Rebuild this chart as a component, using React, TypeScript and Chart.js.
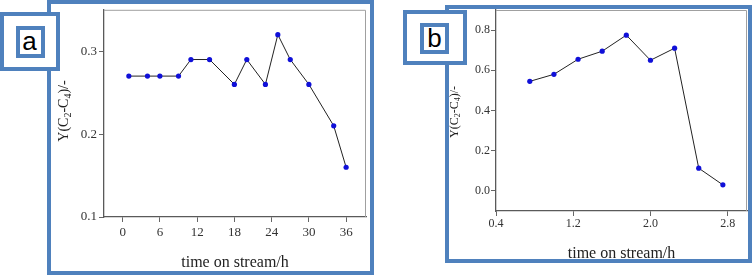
import React, { useEffect, useRef } from "react";
import { Chart, registerables } from "chart.js";
Chart.register(...registerables);

// Panel a
const timeA = [1, 4, 6, 9, 11, 14, 18, 20, 23, 25, 27, 30, 34, 36];
const yieldA = [0.27, 0.27, 0.27, 0.27, 0.29, 0.29, 0.26, 0.29, 0.26, 0.32, 0.29, 0.26, 0.21, 0.16];
const xTicksA = [0, 6, 12, 18, 24, 30, 36];
const yTicksA = [0.1, 0.2, 0.3];

// Panel b
const timeB = [0.75, 1.0, 1.25, 1.5, 1.75, 2.0, 2.25, 2.5, 2.75];
const yieldB = [0.545, 0.58, 0.655, 0.695, 0.775, 0.65, 0.71, 0.113, 0.03];
const xTicksB = [0.4, 1.2, 2.0, 2.8];
const yTicksB = [0.0, 0.2, 0.4, 0.6, 0.8];

const xTitle = "time on stream/h";
const yTitleParts: [string, boolean][] = [
  ["Y(C", false],
  ["2", true],
  ["-C", false],
  ["4", true],
  [")/-", false],
];
const panelLabels = ["a", "b"];

const SERIF = "'Liberation Serif', 'Times New Roman', serif";
const BLUE_FRAME = "#4f81bd";

type Cfg = {
  xs: number[];
  ys: number[];
  xTicks: number[];
  yTicks: number[];
  xMin: number;
  xMax: number;
  yMin: number;
  yMax: number;
  xDec: number;
  yDec: number;
  yWidth: number;
  xHeight: number;
  padTop: number;
  padRight: number;
  tickSize: number;
  tickLen: number;
  xTickPad: number;
  yTickPad: number;
  titleSize: number;
  titlePadBottom: number;
  yTitleX: number;
  yTitleY: number;
  yTitleSize: number;
};

function yTitlePlugin(c: Cfg) {
  return {
    id: "extras",
    afterDraw(chart: any) {
      const { ctx, chartArea: a } = chart;
      ctx.save();
      ctx.strokeStyle = "#a0a0a0";
      ctx.lineWidth = 1;
      ctx.beginPath();
      ctx.moveTo(a.left, a.top + 0.5);
      ctx.lineTo(a.right - 0.5, a.top + 0.5);
      ctx.lineTo(a.right - 0.5, a.bottom);
      ctx.stroke();
      ctx.restore();

      ctx.save();
      const f = c.yTitleSize;
      const fs = Math.round(f * 0.68);
      let total = 0;
      const widths: number[] = [];
      for (const [t, sub] of yTitleParts) {
        ctx.font = `${sub ? fs : f}px ${SERIF}`;
        const w = ctx.measureText(t).width;
        widths.push(w);
        total += w;
      }
      ctx.translate(c.yTitleX, c.yTitleY);
      ctx.rotate(-Math.PI / 2);
      ctx.fillStyle = "#222";
      ctx.textBaseline = "middle";
      ctx.textAlign = "left";
      let x = -total / 2;
      yTitleParts.forEach(([t, sub], i) => {
        ctx.font = `${sub ? fs : f}px ${SERIF}`;
        ctx.fillText(t, x, sub ? f * 0.28 : 0);
        x += widths[i];
      });
      ctx.restore();
    },
  };
}

function makeChart(canvas: HTMLCanvasElement, c: Cfg) {
  const data = c.xs.map((x, i) => ({ x, y: c.ys[i] }));
  return new Chart(canvas, {
    type: "scatter",
    data: {
      datasets: [
        {
          data,
          showLine: true,
          borderColor: "#222",
          borderWidth: 1,
          pointRadius: 2.6,
          pointBackgroundColor: "#1010d8",
          pointBorderColor: "#1010d8",
          pointBorderWidth: 0,
        },
      ],
    },
    options: {
      responsive: false,
      animation: false,
      layout: { padding: { top: c.padTop, right: c.padRight, left: 0, bottom: 0 } },
      plugins: { legend: { display: false }, tooltip: { enabled: false } },
      scales: {
        x: {
          type: "linear",
          min: c.xMin,
          max: c.xMax,
          afterBuildTicks: (s: any) => {
            s.ticks = c.xTicks.map((v) => ({ value: v }));
          },
          afterFit: (s: any) => {
            s.height = c.xHeight;
          },
          ticks: {
            callback: (v: any) => Number(v).toFixed(c.xDec),
            font: { family: SERIF, size: c.tickSize },
            color: "#333",
            padding: c.xTickPad,
            maxRotation: 0,
            autoSkip: false,
          },
          grid: {
            drawOnChartArea: false,
            drawTicks: true,
            tickLength: c.tickLen,
            color: "#666",
          },
          border: { color: "#5a5a5a", width: 1.3 },
          title: {
            display: true,
            text: xTitle,
            font: { family: SERIF, size: c.titleSize },
            color: "#222",
            padding: { top: 0, bottom: c.titlePadBottom },
          },
        },
        y: {
          type: "linear",
          min: c.yMin,
          max: c.yMax,
          afterBuildTicks: (s: any) => {
            s.ticks = c.yTicks.map((v) => ({ value: v }));
          },
          afterFit: (s: any) => {
            s.width = c.yWidth;
          },
          ticks: {
            callback: (v: any) => Number(v).toFixed(c.yDec),
            font: { family: SERIF, size: c.tickSize },
            color: "#333",
            padding: c.yTickPad,
            autoSkip: false,
          },
          grid: {
            drawOnChartArea: false,
            drawTicks: true,
            tickLength: c.tickLen,
            color: "#666",
          },
          border: { color: "#5a5a5a", width: 1.3 },
        },
      },
    },
    plugins: [yTitlePlugin(c)],
  });
}

const cfgA: Cfg = {
  xs: timeA,
  ys: yieldA,
  xTicks: xTicksA,
  yTicks: yTicksA,
  xMin: -3,
  xMax: 39.2,
  yMin: 0.1,
  yMax: 0.35,
  xDec: 0,
  yDec: 1,
  yWidth: 104,
  xHeight: 61,
  padTop: 9,
  padRight: 14,
  tickSize: 13,
  tickLen: 5,
  xTickPad: 3,
  yTickPad: 2,
  titleSize: 16,
  titlePadBottom: 6,
  yTitleX: 64,
  yTitleY: 111,
  yTitleSize: 14,
};

const cfgB: Cfg = {
  xs: timeB,
  ys: yieldB,
  xTicks: xTicksB,
  yTicks: yTicksB,
  xMin: 0.4,
  xMax: 3.0,
  yMin: -0.1,
  yMax: 0.9,
  xDec: 1,
  yDec: 1,
  yWidth: 116,
  xHeight: 67,
  padTop: 10,
  padRight: 5,
  tickSize: 12,
  tickLen: 5,
  xTickPad: 1,
  yTickPad: 1,
  titleSize: 16,
  titlePadBottom: 15,
  yTitleX: 75,
  yTitleY: 112,
  yTitleSize: 12,
};

function Panel({ cfg, left, width }: { cfg: Cfg; left: number; width: number }) {
  const ref = useRef<HTMLCanvasElement>(null);
  useEffect(() => {
    if (!ref.current) return;
    const ch = makeChart(ref.current, cfg);
    return () => ch.destroy();
  }, []);
  return (
    <canvas
      ref={ref}
      width={width}
      height={278}
      style={{ position: "absolute", left, top: 0, width, height: 278 }}
    />
  );
}

function Box({ l, t, w, h, bw, bg, children }: any) {
  return (
    <div
      style={{
        position: "absolute",
        left: l,
        top: t,
        width: w,
        height: h,
        boxSizing: "border-box",
        border: `${bw}px solid ${BLUE_FRAME}`,
        background: bg,
        display: "flex",
        alignItems: "center",
        justifyContent: "center",
        fontFamily: "'Liberation Sans', Arial, sans-serif",
        fontSize: 26,
        lineHeight: 1,
        color: "#000",
      }}
    >
      {children}
    </div>
  );
}

export default function App() {
  return (
    <div
      style={{
        position: "absolute",
        left: 0,
        top: 0,
        width: 752,
        height: 278,
        background: "#fff",
        overflow: "hidden",
      }}
    >
      <Panel cfg={cfgA} left={0} width={380} />
      <Panel cfg={cfgB} left={380} width={372} />
      <Box l={47} t={0} w={327} h={275} bw={4} bg="transparent" />
      <Box l={445} t={5} w={307} h={258} bw={4} bg="transparent" />
      <Box l={0} t={12} w={60} h={59} bw={4} bg="#fff" />
      <Box l={16} t={26} w={29} h={32} bw={4} bg="#fff">
        <span style={{ marginTop: -3, marginLeft: -2 }}>{panelLabels[0]}</span>
      </Box>
      <Box l={403} t={10} w={64} h={55} bw={4} bg="#fff" />
      <Box l={420} t={23} w={29} h={31} bw={4} bg="#fff">
        <span style={{ marginTop: -1 }}>{panelLabels[1]}</span>
      </Box>
    </div>
  );
}
